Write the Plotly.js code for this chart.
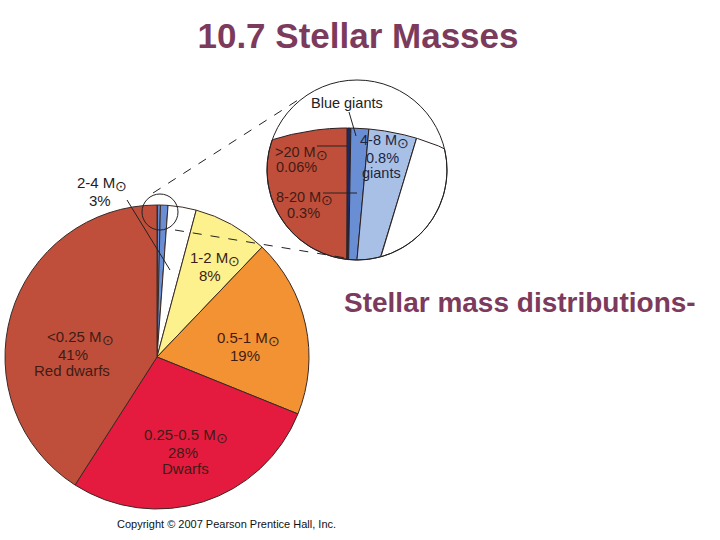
<!DOCTYPE html>
<html><head><meta charset="utf-8">
<script src="https://cdn.plot.ly/plotly-3.0.1.min.js"></script>
<style>html,body{margin:0;padding:0;background:#fff}#chart{width:720px;height:540px}</style>
</head><body><div id="chart"></div>
<script>
// ---- data ----
const massRanges = ['>20', '8-20', '4-8', '2-4', '1-2', '0.5-1', '0.25-0.5', '<0.25'];
const percents = [0.06, 0.3, 0.8, 3, 8, 19, 28, 41];
const groupNames = ['', '', 'giants', '', '', '', 'Dwarfs', 'Red dwarfs'];
const pieColors = ['#1b2a66', '#6a8ed4', '#6a8ed4', '#ffffff', '#fcf18c', '#f39232', '#e41b3f', '#bf4f3a'];
const insetColors = ['#1b2a66', '#6a8ed4', '#a8c0e6', '#ffffff', '#fcf18c', '#f39232', '#e41b3f', '#bf4f3a'];
const titleText = '10.7 Stellar Masses';
const subtitleText = 'Stellar mass distributions-';
const creditText = 'Copyright \u00a9 2007 Pearson Prentice Hall, Inc.';
const insetTitle = 'Blue giants';

// ---- layout geometry (pixels) ----
const W = 720, H = 540;
const PIE = {cx: 157, cy: 357, r: 152};
const INSET = {cx: 357, cy: 170, r: 90};
const VIRT = {cx: 347, cy: 370, r: 242, mag: 4};
const SMALL = {cx: 160, cy: 212, r: 18};
const FONT = 'Liberation Sans, Arial, Helvetica, sans-serif';
const SUN = '<sub><span style="font-size:14px">\u2299</span></sub>';

function esc(s){ return s.replace(/</g,'&lt;').replace(/>/g,'&gt;'); }

// main pie
const mainPie = {
  type: 'pie', values: percents, labels: massRanges.map(m => m + ' M\u2299'),
  sort: false, direction: 'clockwise', rotation: 0,
  marker: {colors: pieColors, line: {color: '#3a2a26', width: 1}},
  textinfo: 'none', hoverinfo: 'label+percent', showlegend: false,
  domain: {x: [(PIE.cx - PIE.r) / W, (PIE.cx + PIE.r) / W], y: [1 - (PIE.cy + PIE.r) / H, 1 - (PIE.cy - PIE.r) / H]}
};

// inset: magnified view of top of the pie, clipped to the inset circle
function inside(px, py, m0, m1) {
  const dx = px - VIRT.cx, dy = py - VIRT.cy;
  if (dx*dx + dy*dy > VIRT.r*VIRT.r) return false;
  const ex = px - INSET.cx, ey = py - INSET.cy;
  if (ex*ex + ey*ey > INSET.r*INSET.r) return false;
  const ang = Math.atan2(dx, -dy) * 180 / Math.PI;
  return ang >= m0 && ang <= m1;
}
function clipWedge(m0, m1) {
  let sx = 0, sy = 0, n = 0;
  for (let gx = INSET.cx - INSET.r; gx <= INSET.cx + INSET.r; gx += 0.5)
    for (let gy = INSET.cy - INSET.r; gy <= INSET.cy + INSET.r; gy += 0.5)
      if (inside(gx, gy, m0, m1)) { sx += gx; sy += gy; n++; }
  if (n < 1) return null;
  const cx = sx / n, cy = sy / n;
  const xs = [], ys = [];
  for (let k = 0; k <= 1440; k++) {
    const t = k / 1440 * 2 * Math.PI, ux = Math.cos(t), uy = Math.sin(t);
    let lo = 0, hi = 2 * INSET.r + 4;
    for (let it = 0; it < 36; it++) {
      const mid = (lo + hi) / 2;
      if (inside(cx + ux*mid, cy + uy*mid, m0, m1)) lo = mid; else hi = mid;
    }
    xs.push(cx + ux*lo); ys.push(cy + uy*lo);
  }
  return {x: xs, y: ys};
}
const total = percents.reduce((a, b) => a + b, 0);
const traces = [];
let cum = 0;
percents.forEach((p, i) => {
  let s0 = cum / total * 360, s1 = (cum + p) / total * 360;
  cum += p;
  if (s0 >= 180) { s0 -= 360; s1 -= 360; }
  const m0 = Math.max(-90, Math.min(90, s0 * VIRT.mag));
  const m1 = Math.max(-90, Math.min(90, s1 * VIRT.mag));
  if (m1 - m0 < 1e-6) return;
  const poly = clipWedge(m0, m1);
  if (!poly) return;
  traces.push({type: 'scatter', mode: 'lines', x: poly.x, y: poly.y, fill: 'toself',
    fillcolor: insetColors[i], line: {color: '#2a2020', width: 1}, hoverinfo: 'skip', showlegend: false});
});
traces.push(mainPie);

// shapes
const shapes = [
  {type: 'circle', xref: 'x', yref: 'y', x0: INSET.cx - INSET.r, x1: INSET.cx + INSET.r, y0: INSET.cy - INSET.r, y1: INSET.cy + INSET.r, line: {color: '#222', width: 1}, layer: 'above'},
  {type: 'circle', xref: 'x', yref: 'y', x0: SMALL.cx - SMALL.r, x1: SMALL.cx + SMALL.r, y0: SMALL.cy - SMALL.r, y1: SMALL.cy + SMALL.r, line: {color: '#222', width: 1}, layer: 'above'},
  {type: 'line', xref: 'x', yref: 'y', x0: 153, y0: 193, x1: 298, y1: 100, line: {color: '#222', width: 1, dash: 'dash'}, layer: 'above'},
  {type: 'line', xref: 'x', yref: 'y', x0: 175, y0: 230, x1: 346, y1: 258, line: {color: '#222', width: 1, dash: 'dash'}, layer: 'above'},
  {type: 'line', xref: 'x', yref: 'y', x0: 127, y0: 200, x1: 170, y1: 270, line: {color: '#222', width: 1}, layer: 'above'},
  {type: 'line', xref: 'x', yref: 'y', x0: 349, y0: 112, x1: 356, y1: 136, line: {color: '#222', width: 1}, layer: 'above'},
  {type: 'line', xref: 'x', yref: 'y', x0: 317, y0: 146, x1: 347, y1: 146, line: {color: '#222', width: 1}, layer: 'above'},
  {type: 'line', xref: 'x', yref: 'y', x0: 323, y0: 193, x1: 357, y1: 193, line: {color: '#222', width: 1}, layer: 'above'}
];

// label line positions per slice index (main pie and inset)
const warmText = '#3f1c16', blueText = '#1c2640', plainText = '#222';
const labelSpecs = [
  {i: 0, pos: [[301, 153], [296, 167]], color: warmText, size: 14.5},
  {i: 1, pos: [[304, 198], [303, 213]], color: warmText, size: 14.5},
  {i: 2, pos: [[384, 141], [382, 158], [381, 173]], color: blueText, size: 14.5},
  {i: 3, pos: [[102, 184], [100, 200]], color: plainText, size: 15},
  {i: 4, pos: [[215, 259], [210, 275]], color: warmText, size: 15},
  {i: 5, pos: [[248, 339], [245, 355]], color: warmText, size: 15},
  {i: 6, pos: [[186, 436], [183, 452], [185, 468]], color: warmText, size: 15},
  {i: 7, pos: [[80, 338], [73, 354], [72, 370]], color: warmText, size: 15}
];
const annotations = [];
labelSpecs.forEach(sp => {
  const lines = [esc(massRanges[sp.i]) + ' M' + SUN, percents[sp.i] + '%'];
  if (groupNames[sp.i]) lines.push(groupNames[sp.i]);
  lines.forEach((t, k) => {
    annotations.push({xref: 'x', yref: 'y', x: sp.pos[k][0], y: sp.pos[k][1], text: t, showarrow: false,
      xanchor: 'center', yanchor: 'middle', font: {family: FONT, size: sp.size, color: sp.color}});
  });
});
annotations.push({xref: 'x', yref: 'y', x: 347, y: 103, text: insetTitle, showarrow: false, xanchor: 'center', yanchor: 'middle', font: {family: FONT, size: 14.5, color: plainText}});
annotations.push({xref: 'x', yref: 'y', x: 342, y: 302, text: '<b>' + subtitleText + '</b>', showarrow: false, xanchor: 'left', yanchor: 'middle', font: {family: FONT, size: 28, color: '#7c3a5c'}});
annotations.push({xref: 'x', yref: 'y', x: 226, y: 524, text: creditText, showarrow: false, xanchor: 'center', yanchor: 'middle', font: {family: FONT, size: 11, color: '#111'}});

const layout = {
  width: W, height: H, margin: {l: 0, r: 0, t: 0, b: 0},
  paper_bgcolor: '#fff', plot_bgcolor: 'rgba(0,0,0,0)', showlegend: false,
  title: {text: '<b>' + titleText + '</b>', x: 358 / W, xanchor: 'center', y: 1 - 36 / H, yanchor: 'middle', font: {family: FONT, size: 35, color: '#7c3a5c'}},
  xaxis: {range: [0, W], visible: false, fixedrange: true},
  yaxis: {range: [H, 0], visible: false, fixedrange: true},
  shapes: shapes, annotations: annotations
};
Plotly.newPlot('chart', traces, layout, {displayModeBar: false, staticPlot: true});
</script></body></html>
